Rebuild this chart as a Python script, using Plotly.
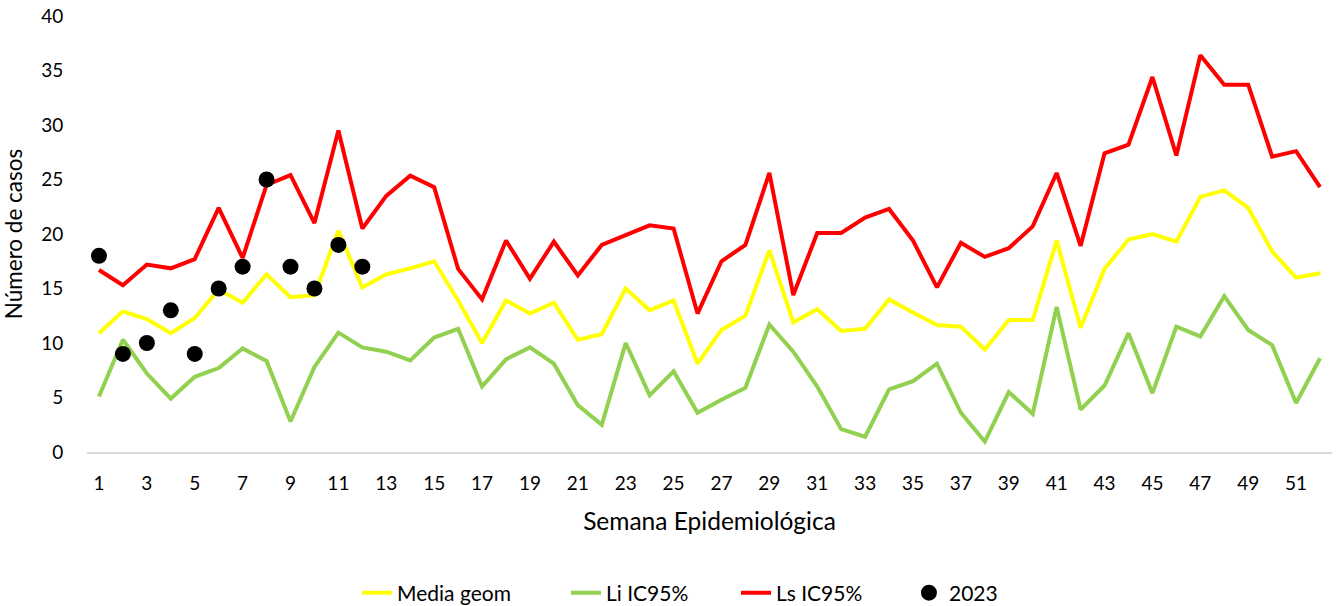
import plotly.graph_objects as go

weeks = list(range(1, 53))

media_geom = [10.9, 12.9, 12.2, 10.9, 12.3, 14.9, 13.7, 16.3, 14.2, 14.4,
              20.3, 15.1, 16.3, 16.85, 17.5, 13.9, 10.0, 13.9, 12.7, 13.7,
              10.3, 10.8, 15.0, 13.0, 13.9, 8.1, 11.2, 12.5, 18.5, 11.9,
              13.1, 11.1, 11.3, 14.0, 12.8, 11.65, 11.5, 9.4, 12.1, 12.1,
              19.4, 11.4, 16.8, 19.5, 20.0, 19.3, 23.4, 24.0, 22.4, 18.4,
              16.0, 16.4]

li_ic95 = [5.1, 10.3, 7.2, 4.9, 6.9, 7.7, 9.5, 8.35, 2.8, 7.8,
           10.95, 9.6, 9.2, 8.4, 10.5, 11.3, 6.0, 8.5, 9.6, 8.1,
           4.3, 2.5, 10.0, 5.2, 7.4, 3.6, 4.8, 5.9, 11.7, 9.2,
           6.0, 2.1, 1.4, 5.75, 6.5, 8.1, 3.6, 0.95, 5.5, 3.5,
           13.3, 3.9, 6.1, 10.9, 5.4, 11.5, 10.6, 14.3, 11.2, 9.8,
           4.5, 8.6]

ls_ic95 = [16.7, 15.3, 17.2, 16.85, 17.7, 22.4, 17.8, 24.5, 25.4, 21.0,
           29.5, 20.5, 23.5, 25.35, 24.3, 16.8, 14.0, 19.4, 15.9, 19.3,
           16.2, 19.0, 19.9, 20.8, 20.5, 12.7, 17.5, 19.0, 25.6, 14.4,
           20.1, 20.1, 21.5, 22.3, 19.4, 15.1, 19.2, 17.9, 18.7, 20.7,
           25.6, 18.9, 27.4, 28.2, 34.4, 27.2, 36.4, 33.7, 33.7, 27.1,
           27.6, 24.3]

weeks_2023 = list(range(1, 13))
casos_2023 = [18, 9, 10, 13, 9, 15, 17, 25, 17, 15, 19, 17]

x_ticks = list(range(1, 52, 2))
y_ticks = [0, 5, 10, 15, 20, 25, 30, 35, 40]

font_family = "Lato, 'Open Sans', sans-serif"

fig = go.Figure()
fig.add_trace(go.Scatter(x=weeks, y=media_geom, mode="lines", name="Media geom",
                         line=dict(color="#FFFF00", width=4), legend="legend"))
fig.add_trace(go.Scatter(x=weeks, y=li_ic95, mode="lines", name="Li IC95%",
                         line=dict(color="#92D050", width=4), legend="legend2"))
fig.add_trace(go.Scatter(x=weeks, y=ls_ic95, mode="lines", name="Ls IC95%",
                         line=dict(color="#FF0000", width=4), legend="legend3"))
fig.add_trace(go.Scatter(x=weeks_2023, y=casos_2023, mode="markers", name="2023",
                         marker=dict(color="#000000", size=16), legend="legend4"))

leg_common = dict(orientation="h", xanchor="left", y=-0.3234, yanchor="middle",
                  font=dict(size=21), bgcolor="rgba(0,0,0,0)")

fig.update_layout(
    width=1340, height=606,
    margin=dict(l=87, r=8, t=16, b=154, autoexpand=False),
    paper_bgcolor="white", plot_bgcolor="white",
    font=dict(family=font_family, size=19, color="#000000"),
    showlegend=True,
    legend=dict(x=0.2169, **leg_common),
    legend2=dict(x=0.3847, **leg_common),
    legend3=dict(x=0.5213, **leg_common),
    legend4=dict(x=0.6602, **leg_common),
    xaxis=dict(
        range=[0.5, 52.5], tickmode="array", tickvals=x_ticks,
        ticktext=[str(t) for t in x_ticks],
        showgrid=False, zeroline=False, showline=True,
        linecolor="#D9D9D9", linewidth=2,
        ticks="outside", ticklen=13, tickcolor="rgba(0,0,0,0)",
        automargin=False,
        title=dict(text="Semana Epidemiológica", font=dict(size=24.5), standoff=20),
        tickfont=dict(size=19),
    ),
    yaxis=dict(
        range=[0, 40], tickmode="array", tickvals=y_ticks,
        showgrid=False, zeroline=False, showline=False,
        ticks="outside", ticklen=19, tickcolor="rgba(0,0,0,0)",
        automargin=False,
        title=dict(text="Número de casos", font=dict(size=22.5), standoff=17),
        tickfont=dict(size=19),
    ),
)

fig.write_html("out.html",
               config={"displayModeBar": False},
               post_script="document.body.style.margin='0px';document.body.style.padding='0px';")
